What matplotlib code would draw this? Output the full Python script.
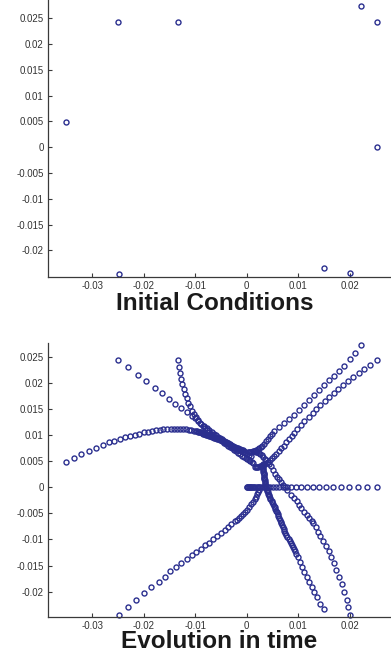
import matplotlib
matplotlib.use("Agg")
import matplotlib.pyplot as plt

# trajectories, each starting at its initial condition
traj1_x = [-0.0351, -0.0336, -0.0321, -0.0306, -0.0293, -0.0280, -0.0268, -0.0257, -0.0247, -0.0236,
           -0.0227, -0.0218, -0.0209, -0.0200, -0.0192, -0.0184, -0.0176, -0.0169, -0.0162, -0.0155,
           -0.0148, -0.0142, -0.0136, -0.0130, -0.0124, -0.0118, -0.0113, -0.0108, -0.0103,
           -0.0099, -0.0097, -0.0095, -0.0093, -0.0091, -0.0089, -0.0087, -0.0085, -0.0083, -0.0081,
           -0.0079, -0.0077, -0.0075, -0.0073, -0.0071, -0.0069, -0.0067, -0.0065, -0.0063, -0.0061,
           -0.0059, -0.0057, -0.0055, -0.0053, -0.0051, -0.0049, -0.0047, -0.0045, -0.0043, -0.0041,
           -0.0039, -0.0037, -0.0035, -0.0033, -0.0031, -0.0029, -0.0027, -0.0025, -0.0023, -0.0021,
           -0.0019, -0.0017, -0.0015, -0.0013, -0.0011, -0.0009, -0.0007, -0.0005]
traj1_y = [0.0049, 0.0056, 0.0064, 0.0070, 0.0076, 0.0081, 0.0086, 0.0089, 0.0093, 0.0096,
           0.0098, 0.0101, 0.0103, 0.0105, 0.0106, 0.0108, 0.0109, 0.0110, 0.0111, 0.0111,
           0.0112, 0.0112, 0.0112, 0.0112, 0.0111, 0.0111, 0.0110, 0.0109, 0.0108,
           0.0107, 0.0107, 0.0106, 0.0106, 0.0105, 0.0105, 0.0104, 0.0103, 0.0102, 0.0102,
           0.0101, 0.0101, 0.0100, 0.0099, 0.0098, 0.0098, 0.0097, 0.0096, 0.0095, 0.0095,
           0.0094, 0.0093, 0.0092, 0.0092, 0.0091, 0.0090, 0.0089, 0.0088, 0.0087, 0.0086,
           0.0085, 0.0084, 0.0083, 0.0082, 0.0081, 0.0080, 0.0079, 0.0078, 0.0077, 0.0076,
           0.0075, 0.0075, 0.0074, 0.0073, 0.0072, 0.0072, 0.0071, 0.0070]

traj2_x = [-0.0250, -0.0230, -0.0212, -0.0195, -0.0179, -0.0164, -0.0151, -0.0139, -0.0127, -0.0117, -0.0107,
           -0.0100, -0.0094, -0.0088, -0.0083, -0.0078, -0.0073, -0.0068, -0.0064, -0.0060, -0.0056,
           -0.0052, -0.0048, -0.0044, -0.0040, -0.0036, -0.0032, -0.0028, -0.0024, -0.0020, -0.0016,
           -0.0012, -0.0008, -0.0004, 0.0000, 0.0004, 0.0008]
traj2_y = [0.0243, 0.0230, 0.0215, 0.0203, 0.0191, 0.0180, 0.0170, 0.0160, 0.0152, 0.0145, 0.0137,
           0.0132, 0.0127, 0.0122, 0.0118, 0.0114, 0.0110, 0.0106, 0.0103, 0.0100, 0.0097,
           0.0094, 0.0092, 0.0089, 0.0086, 0.0084, 0.0081, 0.0079, 0.0076, 0.0074, 0.0071,
           0.0069, 0.0067, 0.0065, 0.0063, 0.0061, 0.0060]

traj3_x = [-0.0133, -0.0131, -0.0129, -0.0127, -0.0125, -0.0122, -0.0120, -0.0117, -0.0114, -0.0111,
           -0.0107, -0.0103, -0.0099, -0.0095, -0.0090, -0.0085,
           -0.0081, -0.0077, -0.0073, -0.0069, -0.0065, -0.0061, -0.0057, -0.0053, -0.0049, -0.0045,
           -0.0041, -0.0037, -0.0033, -0.0029, -0.0025, -0.0021, -0.0017, -0.0013, -0.0009, -0.0005,
           -0.0002, 0.0001, 0.0004, 0.0007, 0.0010, 0.0012]
traj3_y = [0.0243, 0.0230, 0.0219, 0.0208, 0.0198, 0.0188, 0.0179, 0.0171, 0.0162, 0.0155,
           0.0147, 0.0141, 0.0134, 0.0128, 0.0123, 0.0118,
           0.0114, 0.0110, 0.0106, 0.0103, 0.0100, 0.0097, 0.0094, 0.0091, 0.0088, 0.0085,
           0.0082, 0.0080, 0.0077, 0.0075, 0.0072, 0.0069, 0.0066, 0.0063, 0.0060, 0.0058,
           0.0056, 0.0054, 0.0052, 0.0050, 0.0048, 0.0047]

traj4_x = [0.0221, 0.0210, 0.0200, 0.0189, 0.0179, 0.0169, 0.0160, 0.0150, 0.0140, 0.0131,
           0.0121, 0.0111, 0.0101, 0.0092, 0.0082, 0.0072, 0.0063, 0.0053,
           0.0049, 0.0045, 0.0041, 0.0037, 0.0033, 0.0030, 0.0027, 0.0024, 0.0021, 0.0018,
           0.0015, 0.0012, 0.0009, 0.0006, 0.0004, 0.0002]
traj4_y = [0.0273, 0.0258, 0.0246, 0.0233, 0.0223, 0.0214, 0.0205, 0.0196, 0.0187, 0.0177,
           0.0168, 0.0158, 0.0149, 0.0139, 0.0131, 0.0123, 0.0115, 0.0107,
           0.0102, 0.0098, 0.0093, 0.0088, 0.0083, 0.0080, 0.0077, 0.0075, 0.0073, 0.0071,
           0.0070, 0.0069, 0.0068, 0.0068, 0.0067, 0.0067]

traj5_x = [0.0252, 0.0239, 0.0228, 0.0217, 0.0206, 0.0197, 0.0187, 0.0178, 0.0169, 0.0160,
           0.0151, 0.0143, 0.0135, 0.0128, 0.0120, 0.0112, 0.0105, 0.0098, 0.0092,
           0.0087, 0.0082, 0.0077, 0.0072, 0.0067, 0.0062, 0.0057, 0.0053, 0.0049, 0.0045,
           0.0041, 0.0037, 0.0034, 0.0031, 0.0028, 0.0025, 0.0022, 0.0019, 0.0017, 0.0015]
traj5_y = [0.0243, 0.0235, 0.0227, 0.0219, 0.0211, 0.0204, 0.0196, 0.0188, 0.0180, 0.0173,
           0.0165, 0.0157, 0.0150, 0.0142, 0.0134, 0.0127, 0.0119, 0.0111, 0.0104,
           0.0098, 0.0092, 0.0086, 0.0080, 0.0075, 0.0069, 0.0064, 0.0060, 0.0056, 0.0052,
           0.0049, 0.0046, 0.0044, 0.0042, 0.0041, 0.0040, 0.0039, 0.0039, 0.0038, 0.0038]

traj6_x = [0.0252, 0.0233, 0.0215, 0.0198, 0.0182, 0.0167, 0.0153, 0.0140, 0.0128, 0.0116,
           0.0105, 0.0095, 0.0086, 0.0078, 0.0070, 0.0063, 0.0056, 0.0050, 0.0045, 0.0041,
           0.0037, 0.0033, 0.0030, 0.0026, 0.0024, 0.0021, 0.0019, 0.0016, 0.0014, 0.0012,
           0.0010, 0.0009, 0.0007, 0.0006, 0.0004, 0.0003, 0.0001, 0.0000]
traj6_y = [0.0, 0.0, 0.0, 0.0, 0.0, 0.0, 0.0, 0.0, 0.0, 0.0,
           0.0, 0.0, 0.0, 0.0, 0.0, 0.0, 0.0, 0.0, 0.0, 0.0,
           0.0, 0.0, 0.0, 0.0, 0.0, 0.0, 0.0, 0.0, 0.0, 0.0,
           0.0, 0.0, 0.0, 0.0, 0.0, 0.0, 0.0, 0.0]

traj7_x = [0.0150, 0.0143, 0.0137, 0.0131, 0.0126, 0.0121, 0.0116, 0.0111, 0.0107, 0.0103, 0.0099, 0.0095,
           0.0093, 0.0091, 0.0089, 0.0087, 0.0085, 0.0083, 0.0081, 0.0079, 0.0077, 0.0075,
           0.0073, 0.0072, 0.0070, 0.0069, 0.0067, 0.0066, 0.0064, 0.0063, 0.0061, 0.0060,
           0.0058, 0.0057, 0.0055, 0.0054, 0.0052, 0.0051, 0.0049, 0.0048, 0.0046, 0.0045,
           0.0044, 0.0043, 0.0042, 0.0041, 0.0040, 0.0039, 0.0038, 0.0037, 0.0037, 0.0036,
           0.0036, 0.0035, 0.0035, 0.0034, 0.0034, 0.0033, 0.0033, 0.0033, 0.0033, 0.0032,
           0.0032, 0.0032, 0.0032, 0.0032, 0.0032, 0.0032]
traj7_y = [-0.0234, -0.0223, -0.0211, -0.0200, -0.0191, -0.0181, -0.0171, -0.0162, -0.0152, -0.0143, -0.0134, -0.0127,
           -0.0123, -0.0119, -0.0115, -0.0111, -0.0107, -0.0103, -0.0099, -0.0095, -0.0091, -0.0087,
           -0.0083, -0.0080, -0.0076, -0.0073, -0.0069, -0.0066, -0.0062, -0.0059, -0.0055, -0.0052,
           -0.0048, -0.0045, -0.0041, -0.0038, -0.0035, -0.0032, -0.0029, -0.0026, -0.0023, -0.0020,
           -0.0017, -0.0015, -0.0012, -0.0010, -0.0007, -0.0005, -0.0002, 0.0000, 0.0003, 0.0005,
           0.0008, 0.0010, 0.0013, 0.0015, 0.0018, 0.0020, 0.0023, 0.0025, 0.0028, 0.0030,
           0.0033, 0.0035, 0.0038, 0.0040, 0.0043, 0.0045]

traj8_x = [0.0200, 0.0197, 0.0194, 0.0189, 0.0184, 0.0179, 0.0174, 0.0169, 0.0164, 0.0159,
           0.0153, 0.0148, 0.0143, 0.0139, 0.0134, 0.0129, 0.0126, 0.0121, 0.0117, 0.0111,
           0.0106, 0.0102, 0.0097, 0.0092, 0.0085, 0.0079,
           0.0075, 0.0071, 0.0067, 0.0063, 0.0059, 0.0055, 0.0051, 0.0047, 0.0044, 0.0041,
           0.0038, 0.0035, 0.0032, 0.0029, 0.0026, 0.0023, 0.0020, 0.0017, 0.0014]
traj8_y = [-0.0244, -0.0230, -0.0216, -0.0200, -0.0185, -0.0171, -0.0159, -0.0146, -0.0134, -0.0123,
           -0.0113, -0.0102, -0.0093, -0.0085, -0.0077, -0.0069, -0.0064, -0.0058, -0.0053, -0.0047,
           -0.0040, -0.0034, -0.0027, -0.0021, -0.0015, -0.0005,
           0.0000, 0.0005, 0.0010, 0.0015, 0.0020, 0.0026, 0.0033, 0.0040, 0.0044, 0.0048,
           0.0052, 0.0055, 0.0058, 0.0061, 0.0063, 0.0065, 0.0067, 0.0068, 0.0069]

traj9_x = [-0.0249, -0.0231, -0.0215, -0.0200, -0.0186, -0.0171, -0.0159,
           -0.0150, -0.0138, -0.0127, -0.0117, -0.0107, -0.0098, -0.0089, -0.0081, -0.0073,
           -0.0066, -0.0058, -0.0050, -0.0043, -0.0036, -0.0030, -0.0023,
           -0.0019, -0.0015, -0.0011, -0.0007, -0.0003, 0.0001, 0.0005, 0.0009, 0.0012,
           0.0015, 0.0018, 0.0020, 0.0022, 0.0024]
traj9_y = [-0.0245, -0.0230, -0.0216, -0.0203, -0.0192, -0.0181, -0.0171,
           -0.0161, -0.0153, -0.0145, -0.0137, -0.0130, -0.0124, -0.0118, -0.0111, -0.0106,
           -0.0099, -0.0094, -0.0088, -0.0082, -0.0077, -0.0071, -0.0065,
           -0.0062, -0.0058, -0.0055, -0.0051, -0.0047, -0.0043, -0.0038, -0.0033, -0.0028,
           -0.0023, -0.0018, -0.0013, -0.0009, -0.0005]

xticks = [-0.03, -0.02, -0.01, 0.0, 0.01, 0.02]
xtick_labels = ["-0.03", "-0.02", "-0.01", "0", "0.01", "0.02"]
yticks = [-0.02, -0.015, -0.01, -0.005, 0.0, 0.005, 0.01, 0.015, 0.02, 0.025]
ytick_labels = ["-0.02", "-0.015", "-0.01", "-0.005", "0", "0.005", "0.01", "0.015", "0.02", "0.025"]

trajectories = [(traj1_x, traj1_y), (traj2_x, traj2_y), (traj3_x, traj3_y),
                (traj4_x, traj4_y), (traj5_x, traj5_y), (traj6_x, traj6_y),
                (traj7_x, traj7_y), (traj8_x, traj8_y), (traj9_x, traj9_y)]

plt.rcParams["font.family"] = ["Liberation Sans", "DejaVu Sans"]
MARK = "#2b2f8f"
AXC = "#3a3a3a"

fig = plt.figure(figsize=(3.91, 6.54), dpi=100)
ax_top = fig.add_axes([48 / 391, 376.7 / 654, 343 / 391, 277.3 / 654])
ax_bot = fig.add_axes([48 / 391, 37.3 / 654, 343 / 391, 274 / 654])


def style(ax, ylim):
    ax.set_xlim(-0.0386, 0.0280)
    ax.set_ylim(*ylim)
    for side in ("top", "right"):
        ax.spines[side].set_visible(False)
    for side in ("left", "bottom"):
        ax.spines[side].set_color(AXC)
        ax.spines[side].set_linewidth(0.9)
    ax.set_xticks(xticks)
    ax.set_xticklabels(xtick_labels)
    ax.set_yticks(yticks)
    ax.set_yticklabels(ytick_labels)
    ax.tick_params(direction="in", length=3, width=0.8, color=AXC,
                   labelsize=7, labelcolor="#333333", pad=3)


# initial conditions: first point of each trajectory
x0 = [tx[0] for tx, _ in trajectories]
y0 = [ty[0] for _, ty in trajectories]
ax_top.plot(x0, y0, linestyle="none", marker="o", markersize=3.6,
            markerfacecolor="none", markeredgecolor=MARK, markeredgewidth=1.0,
            clip_on=False)
style(ax_top, (-0.0252, 0.02855))

for tx, ty in trajectories:
    ax_bot.plot(tx, ty, linestyle="none", marker="o", markersize=3.6,
                markerfacecolor="none", markeredgecolor=MARK, markeredgewidth=1.0,
                clip_on=False)
style(ax_bot, (-0.0248, 0.0277))

fig.text(215 / 391, 344 / 654, "Initial Conditions", ha="center", va="baseline",
         fontsize=17.5, fontweight="bold", color="#1a1a1a")
fig.text(218.7 / 391, 5.7 / 654, "Evolution in time", ha="center", va="baseline",
         fontsize=17.5, fontweight="bold", color="#1a1a1a")

fig.savefig("out.png", dpi=100)
